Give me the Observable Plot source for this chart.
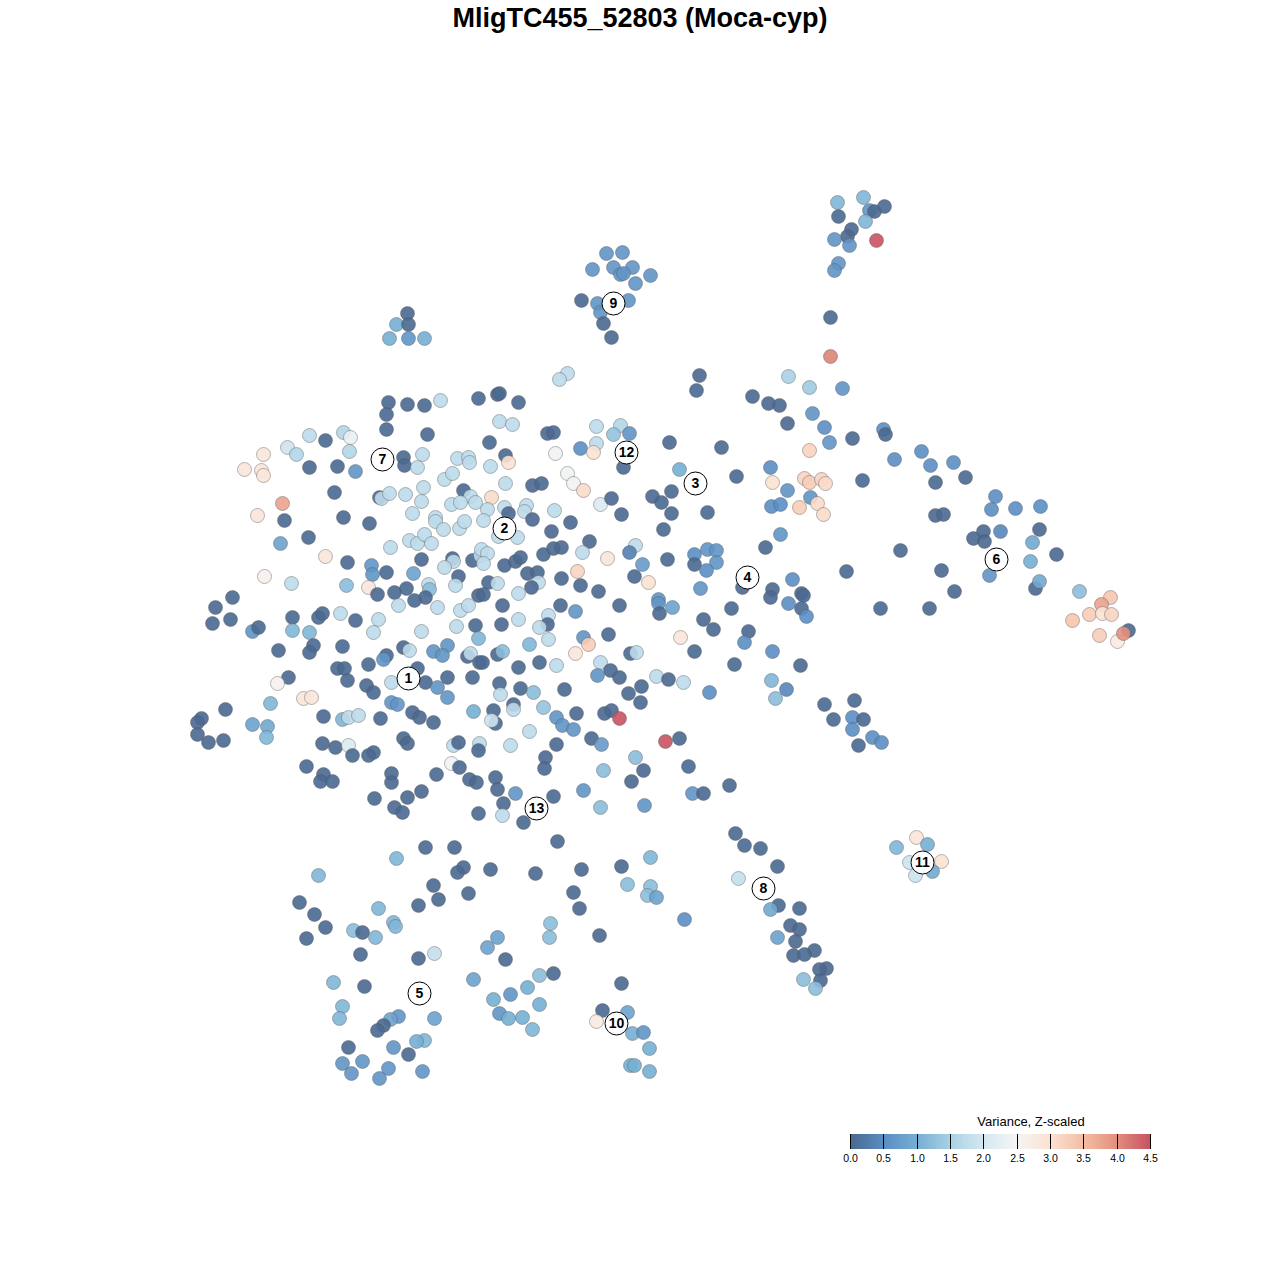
<!DOCTYPE html>
<html><head><meta charset="utf-8">
<script src="https://cdn.jsdelivr.net/npm/d3@7"></script>
<script src="https://cdn.jsdelivr.net/npm/@observablehq/plot@0.6"></script>
<style>
body{margin:0;background:#fff;font-family:"Liberation Sans",Arial,sans-serif;}
#wrap{position:relative;width:1280px;height:1280px;}
#title{height:40px;line-height:36px;text-align:center;font-weight:bold;font-size:27px;color:#000;}
#legend{position:relative;height:180px;}
#legtitle{position:absolute;left:931px;width:200px;top:14px;text-align:center;font-size:13px;color:#000;}
</style></head>
<body><div id="wrap"><div id="title">MligTC455_52803 (Moca-cyp)</div><div id="chart"></div><div id="legend"><div id="legtitle">Variance, Z-scaled</div></div></div>
<script>
// colour stops of the Z-scaled variance legend
const stops = [0,0.5,1,1.5,2,2.5,3,3.5,4,4.5];
const stopColors = ["#4a6891","#5b8ec4","#76afd3","#aad1e5","#d6e8f1","#f5f5f5","#fbe2d3","#f4bfa5","#e3907e","#c85363"];
const legendTicks = [0,0.5,1,1.5,2,2.5,3,3.5,4,4.5];

// cells as [tSNE1, tSNE2, variance] (tSNE2 grows downward)
const clusterTopRight = [[837,202,1.1],[863,197,1.1],[869,210,0.6],[874,211,0],[884,206,0],[838,216,0],[865,221,1.1],[851,229,0],[847,236,0],[834,239,0.6],[849,245,0.6],[876,240,4.5],[838,263,0.6],[834,270,0.6],[830,317,0],[830,356,4.1]];
const cluster9 = [[606,253,0.6],[622,252,0.6],[592,269,0.6],[613,267,0.6],[632,267,0.6],[620,274,0.6],[623,273,0.6],[650,275,0.6],[635,283,0.6],[581,300,0],[597,303,0.6],[600,312,0.6],[628,300,0.6],[603,323,0],[611,337,0]];
const clusterSmall = [[407,313,0],[396,324,1.0],[408,324,0],[389,338,1.0],[408,338,0.6],[424,338,1.0]];
const coreNW = [[388,402,0],[407,404,0],[424,405,0],[440,400,1.7],[478,398,0],[386,414,0],[386,429,0],[427,434,0],[309,435,1.7],[325,440,0],[343,432,1.6],[350,437,2.3],[287,447,1.9],[296,454,1.6],[349,451,1.6],[263,454,2.9],[244,469,2.9],[261,470,2.9],[263,475,2.9],[309,467,0],[337,466,0],[355,471,0.6],[403,457,0],[404,465,0],[422,454,1.7],[417,467,1.7],[457,458,1.7],[468,457,1.7],[469,462,1.7],[334,492,0],[379,497,0],[381,498,1.7],[389,493,1.7],[405,494,1.7],[423,487,1.7],[421,501,1.7],[444,479,1.7],[452,473,1.7],[463,490,0],[470,496,1.7],[451,504,1.7],[460,502,1.7],[475,502,1.7],[412,513,1.7],[435,517,1.7],[435,521,1.7],[443,529,1.7],[459,528,1.7],[464,521,1.7],[282,503,3.8],[257,515,2.9],[284,520,0],[343,517,0],[369,523,0],[308,537,0],[280,543,0.8],[325,556,2.9],[390,547,1.7],[409,540,1.7],[417,543,1.7],[424,534,1.7],[431,543,1.7],[421,559,0],[452,558,0],[453,561,1.7],[444,567,1.7],[472,560,0],[480,555,1.7],[458,576,0],[455,585,1.7],[347,562,0],[371,565,0.6],[372,574,0.6],[386,572,0],[413,573,0.8],[264,576,2.6],[291,583,1.7],[346,585,1.2],[368,587,2.9],[377,594,0],[394,592,0],[406,588,0],[428,584,1.7],[429,589,1.2],[425,597,0],[478,595,0],[232,597,0]];
const coreNE = [[567,373,1.7],[559,379,1.7],[497,394,0],[499,393,0],[518,402,0],[699,375,0],[696,390,0],[499,421,1.7],[512,424,1.7],[547,433,0],[553,432,0],[489,442,0],[596,426,1.7],[620,425,1.6],[613,434,1.3],[629,433,0.6],[596,443,1.7],[580,448,0.5],[593,452,3.0],[623,467,0],[555,453,2.4],[669,442,0],[679,469,1.0],[505,455,0],[508,462,3.0],[490,466,1.7],[505,483,1.7],[567,473,2.4],[573,483,2.4],[583,490,3.1],[532,485,0],[541,483,0],[491,497,3.1],[487,509,1.7],[504,507,1.7],[508,513,0],[526,505,1.7],[524,511,1.7],[532,519,0],[554,510,1.7],[570,522,0],[600,504,2.1],[611,498,0],[621,514,0],[652,496,0],[661,502,0],[671,491,0],[671,513,0],[663,529,0],[517,537,1.7],[498,536,1.7],[483,520,1.7],[551,531,0],[589,541,0],[481,549,1.7],[487,553,1.7],[483,563,1.7],[504,565,0],[515,561,0],[520,557,0],[543,554,0],[553,548,0],[561,547,0],[582,552,1.7],[635,545,1.7],[629,552,0.3],[642,564,0.7],[607,558,2.9],[577,571,3.2],[634,576,0],[648,582,3.0],[667,559,0],[694,554,0.5],[694,564,0],[488,582,0],[497,583,1.7],[527,573,0],[537,572,0],[538,582,1.7],[531,587,0],[483,594,0],[518,593,1.7],[561,578,0],[580,585,0],[598,591,0],[658,599,0.6]];
const coreSW = [[215,607,0],[212,623,0],[230,619,0],[252,631,0.6],[258,627,0],[292,617,0],[292,630,1.1],[309,632,1.1],[318,617,0],[322,613,0],[313,645,0],[309,652,0],[278,650,0],[340,613,1.7],[355,620,0],[378,619,1.7],[373,632,1.7],[342,646,0],[398,605,1.7],[414,600,0],[437,607,1.7],[421,631,1.7],[460,610,1.7],[468,605,1.7],[456,626,1.7],[475,625,0],[478,638,1.1],[403,647,0],[409,650,1.7],[386,655,0],[383,659,0.6],[433,651,0.6],[447,645,0.6],[442,655,0.6],[467,656,0],[470,653,1.7],[479,662,0],[337,668,0],[344,668,0],[368,664,0],[347,680,0],[366,685,0],[373,692,0],[391,682,1.7],[417,668,0],[425,682,0],[437,687,0.6],[447,677,0],[472,677,0],[447,697,0.6],[288,677,0],[277,683,2.6],[303,698,2.9],[311,697,2.9],[270,703,1.1],[225,709,0],[201,718,0],[197,722,0],[197,734,0],[208,742,0],[223,740,0],[252,724,0.8],[267,726,0.9],[266,737,1.1],[323,716,0],[342,719,1.1],[348,717,1.7],[358,715,1.7],[380,718,0],[391,702,0.6],[397,704,0.6],[412,712,0],[419,717,0],[433,722,0],[473,711,1.0],[322,743,0],[335,747,0],[348,745,2.1],[352,755,0],[373,752,0],[368,755,0],[403,738,0],[407,743,0],[453,745,1.7],[458,742,0],[479,743,1.7],[478,750,0],[451,763,2.4],[459,767,0],[306,766,0],[323,774,0],[320,781,0],[332,781,0],[391,773,0],[391,782,0],[436,774,0],[469,779,0],[476,782,0],[374,798,0],[407,797,0],[421,791,0],[394,807,0],[402,812,0],[478,813,0],[425,847,0],[454,847,0]];
const coreSE = [[502,605,0],[518,619,1.7],[548,615,1.7],[547,624,0],[539,627,1.7],[560,605,0],[575,611,0.6],[619,605,0],[658,603,0.6],[659,613,0],[672,607,0.8],[680,637,2.9],[694,651,0],[501,624,0],[529,644,1.1],[548,639,1.7],[583,637,0.6],[588,644,3.3],[575,653,2.9],[608,634,0],[482,662,0],[497,654,0],[502,651,1.2],[630,653,0],[636,652,1.7],[518,667,0],[539,662,0],[556,665,1.7],[600,662,1.7],[610,670,0],[619,677,0],[597,675,0.6],[656,676,1.7],[668,679,0],[683,682,1.7],[499,683,0],[500,694,1.7],[520,688,0],[533,692,1.2],[564,689,0],[628,693,0],[641,686,0],[640,702,0],[493,710,0],[495,723,0],[491,720,1.9],[513,704,0],[513,709,1.7],[543,707,1.3],[529,731,1.7],[556,717,0.6],[562,725,0.6],[573,729,0.6],[576,713,0],[604,713,0],[611,710,0],[619,718,4.5],[591,738,0],[601,744,0.7],[665,741,4.5],[679,738,0],[510,745,1.7],[556,744,0],[635,757,1.2],[643,770,0],[631,781,0],[603,770,1.2],[545,757,0],[544,768,0],[688,766,0],[495,777,0],[497,789,0],[515,793,0.6],[503,803,0],[502,815,1.7],[523,822,0],[553,796,0],[583,790,0.6],[600,807,1.2],[644,805,0.6],[692,793,0.6],[703,793,0],[729,785,0],[557,841,0]];
const armEast = [[788,376,1.5],[809,387,1.4],[842,388,0.6],[752,396,0],[768,403,0],[779,405,0],[812,413,0.6],[787,423,0],[824,427,0.5],[829,442,0.6],[852,438,0],[883,429,0.5],[885,434,0],[721,447,0],[809,450,3.2],[894,459,0.5],[921,451,0.5],[930,465,0.5],[953,462,0.5],[935,482,0],[965,477,0],[862,480,0],[736,476,0],[770,467,0.5],[772,482,3.0],[787,490,0.6],[804,478,3.2],[809,482,3.3],[821,479,3.2],[825,483,3.1],[810,497,0.6],[771,506,0.5],[780,504,0.5],[799,507,3.3],[817,503,3.1],[823,514,3.1],[707,512,0],[995,496,0.5],[991,509,0.5],[1015,508,0.5],[1040,506,0.5],[935,515,0],[943,514,0],[780,534,0.6],[983,531,0],[973,538,0],[984,541,0],[1000,531,0.4],[1039,529,0],[1032,542,0.9],[765,547,0],[900,550,0],[1030,561,1.0],[1056,554,0],[989,575,0.6],[941,570,0],[846,571,0],[954,591,0],[1035,588,0],[1039,581,0.9],[1079,591,1.2],[1110,597,3.4],[1101,604,3.8],[1089,614,3.3],[1102,613,3.0],[1111,614,3.2],[1072,620,3.4],[1099,635,3.3],[1117,641,2.8],[1128,630,0],[1123,633,4.0],[880,608,0],[929,608,0],[707,549,0.6],[716,550,0.6],[716,562,0.6],[706,570,0.5],[700,588,0.6],[742,587,0],[772,589,0],[770,597,0],[792,579,0.5],[801,593,0],[803,595,0],[788,603,0.5],[801,608,0],[806,616,0.5],[731,608,0],[703,619,0],[713,629,0],[748,631,0],[744,642,0.5],[772,651,0.5],[734,664,0],[800,665,0],[771,680,1.1],[786,689,0.4],[775,698,1.2],[709,692,0.5],[824,704,0],[854,700,0],[833,719,0],[852,717,0.5],[863,719,0],[852,729,0.5],[872,737,0.5],[881,742,0.5],[858,745,0]];
const armSouth = [[396,858,1.1],[318,875,1.1],[463,867,0],[457,872,0],[490,869,0],[535,873,0],[581,869,0],[621,866,0],[650,857,1.1],[627,884,1.2],[650,886,1.2],[647,895,1.2],[656,897,0.8],[573,892,0],[579,908,0],[684,919,0.5],[468,893,0],[433,885,0],[438,899,0],[418,905,0],[299,902,0],[314,914,0],[325,927,0],[306,938,0],[378,908,1.1],[353,930,1.2],[362,932,0],[375,937,1.1],[393,922,1.1],[395,926,1.1],[360,954,0],[418,958,0],[434,953,1.8],[497,937,0.8],[487,947,0.8],[505,959,0],[550,923,1.2],[549,937,1.2],[599,935,0],[333,982,1.1],[364,986,0],[342,1006,1.1],[339,1018,1.1],[398,1016,0.6],[390,1019,0.8],[383,1025,0],[377,1030,0],[434,1018,0.8],[424,1040,1.1],[416,1041,1.0],[393,1047,0.6],[408,1054,0],[348,1047,0],[342,1063,0.6],[362,1061,0.6],[351,1073,0.6],[388,1068,0.6],[379,1078,0.6],[422,1071,0.6],[473,979,0.8],[493,999,1.0],[510,994,0.6],[527,987,1.0],[539,975,1.2],[553,973,0],[539,1004,1.0],[499,1013,0.6],[508,1018,1.0],[522,1017,1.0],[532,1029,1.1],[621,983,0],[602,1010,0],[596,1021,2.8],[627,1012,0.8],[632,1033,1.0],[643,1032,0.6],[649,1048,1.0],[630,1065,1.0],[634,1065,1.0],[649,1071,1.0]];
const arm8 = [[735,833,0],[744,845,0],[760,848,0],[777,866,0],[738,878,1.8],[778,905,0],[770,909,0.9],[799,908,0],[790,925,0],[799,929,0],[777,937,0.8],[795,941,0],[814,950,0],[793,955,0],[804,954,0],[826,968,0],[819,969,0],[820,980,0],[803,979,1.2],[815,988,1.2]];
const cluster11 = [[896,847,1.1],[916,837,2.9],[927,844,1.0],[909,862,1.9],[941,861,3.0],[932,871,0.9],[915,875,1.9]];

// cluster label positions
const clusterIds = ["1","2","3","4","5","6","7","8","9","10","11","12","13"];
const clusterX = [408,504,695,747,419,996,382,763,613,616,922,626,536];
const clusterY = [678,528,483,577,993,559,459,888,303,1023,862,452,808];

const cells = [clusterTopRight, cluster9, clusterSmall, coreNW, coreNE, coreSW, coreSE, armEast, armSouth, arm8, cluster11]
  .flat().map(([t1, t2, v]) => ({t1, t2, v}));
const labels = clusterIds.map((id, i) => ({id, t1: clusterX[i], t2: clusterY[i]}));

const colorScale = {type: "linear", domain: stops, range: stopColors, clamp: true};

const chart = Plot.plot({
  width: 1280, height: 1060, margin: 0,
  x: {domain: [0, 1280], range: [0, 1280], axis: null},
  y: {domain: [40, 1100], range: [0, 1060], axis: null},
  color: colorScale,
  style: {background: "white"},
  marks: [
    Plot.dot(cells, {x: "t1", y: "t2", fill: "v", r: 7, stroke: "#555", strokeWidth: 0.6, strokeOpacity: 0.7, fillOpacity: 0.9}),
    Plot.dot(labels, {x: "t1", y: "t2", r: 11.5, fill: "white", stroke: "black", strokeWidth: 1}),
    Plot.text(labels, {x: "t1", y: "t2", text: "id", fontWeight: "bold", fontSize: 14, fill: "black", fontFamily: "Liberation Sans, Arial, sans-serif"})
  ]
});
document.getElementById("chart").appendChild(chart);

const leg = Plot.legend({
  color: colorScale, label: null,
  width: 320, height: 49, marginLeft: 10, marginRight: 10, marginTop: 18, marginBottom: 16,
  tickSize: 0, ticks: legendTicks, tickFormat: d3.format(".1f"),
  style: {fontSize: "10.5px", fontFamily: "Liberation Sans, Arial, sans-serif", color: "#000"}
});
d3.select(leg).selectAll(".tick text").attr("y", 6);
leg.style.position = "absolute";
leg.style.left = "840px";
leg.style.top = "16px";
document.getElementById("legend").appendChild(leg);
</script>
</body></html>
